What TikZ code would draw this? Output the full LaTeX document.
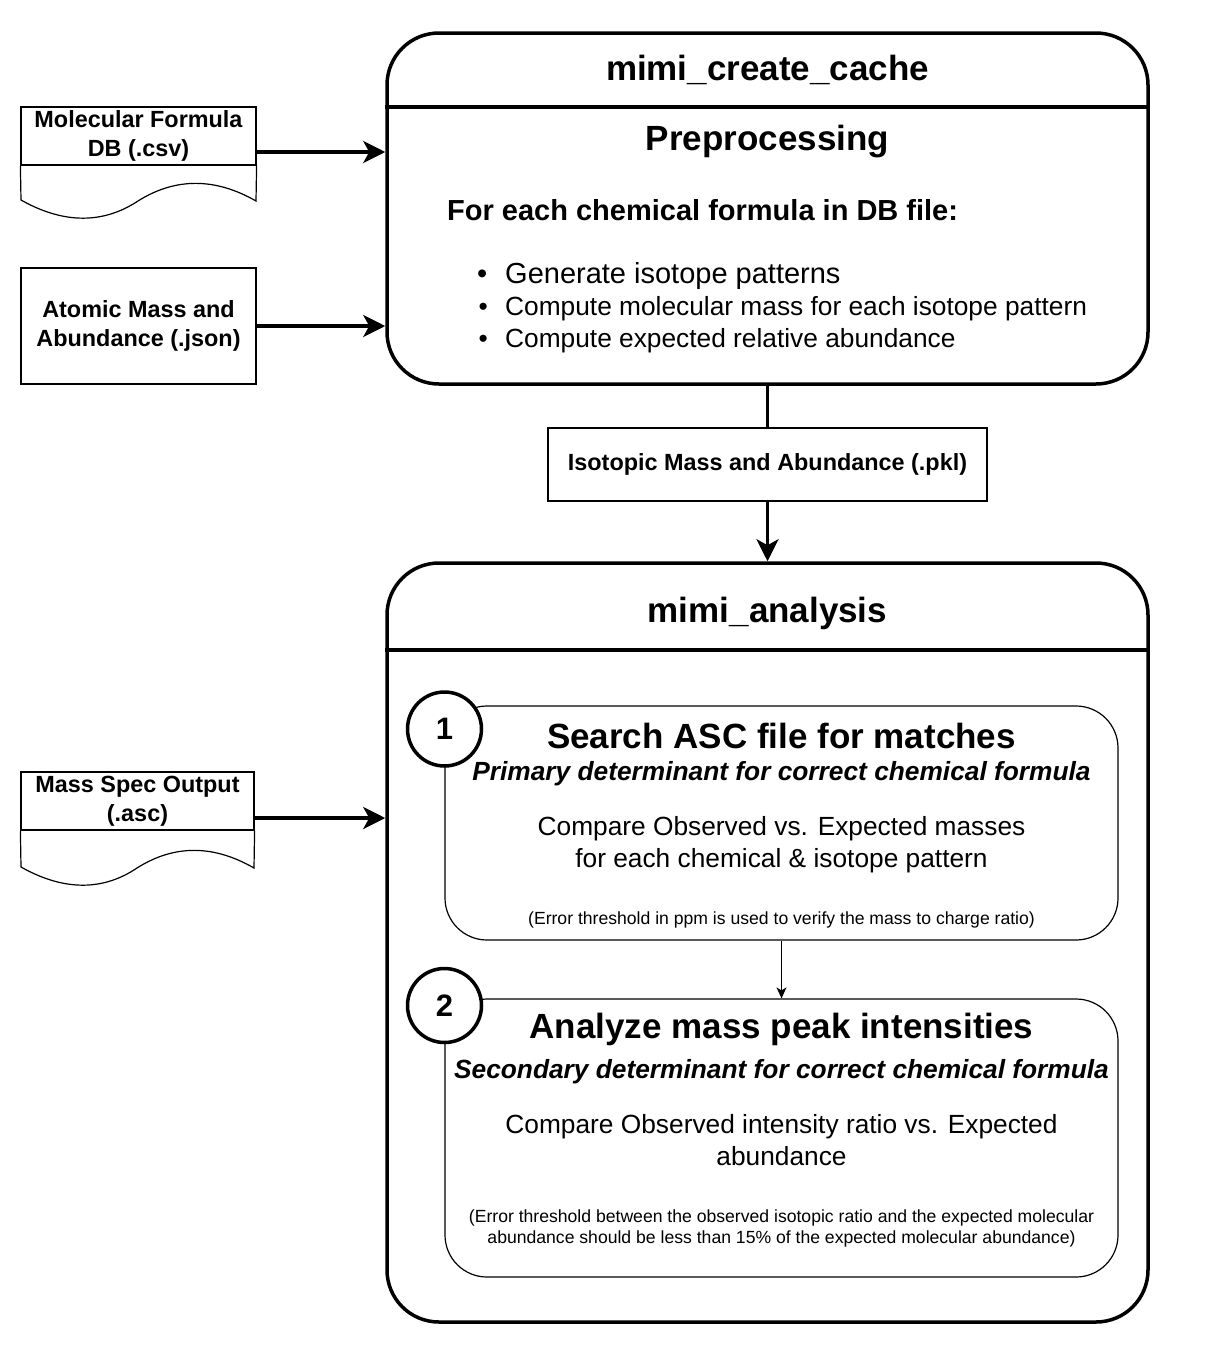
\documentclass[tikz,border=0pt]{standalone}
\usepackage{fontspec}
\setmainfont{Liberation Sans}
\usetikzlibrary{arrows.meta,positioning}

\tikzset{
  bigbox/.style={draw, line width=3.5pt, rounded corners=52pt, inner sep=0pt},
  filebox/.style={draw, line width=1.2pt, inner sep=0pt, align=center, font=\bfseries\fontsize{23.4}{29}\selectfont},
  stepbox/.style={draw, line width=1.2pt, rounded corners=42pt, inner sep=0pt, minimum width=673pt},
  numcirc/.style={draw, circle, line width=3.5pt, fill=white, minimum size=74pt, inner sep=0pt, font=\bfseries\fontsize{31}{31}\selectfont},
  flow/.style={line width=3.5pt, -{Stealth[length=22pt,width=22pt,inset=6pt]}},
  thinflow/.style={line width=1.2pt, -{Stealth[length=11pt,width=10pt,inset=3pt]}},
  titlefont/.style={font=\bfseries\fontsize{35}{42}\selectfont},
  subfont/.style={font=\bfseries\itshape\fontsize{26.3}{31.5}\selectfont},
  bodyfont/.style={font=\fontsize{26.3}{31.7}\selectfont, align=center},
  notefont/.style={font=\fontsize{17.6}{21}\selectfont, align=center},
}

\begin{document}
\begin{tikzpicture}[x=1pt,y=-1pt]
\useasboundingbox (0,0) rectangle (1206,1352);

% mimi_create_cache
\node[bigbox, minimum width=761pt, minimum height=351pt] (cache) at (767.5,208.5) {};
\coordinate (cachecut) at (0,107);
\draw[line width=3.5pt] (cache.west |- cachecut) -- (cache.east |- cachecut);
\node[titlefont, anchor=base] (cachetitle) at (767.5,80) {mimi\_create\_cache};
\node[titlefont, anchor=base] (prep) at (767.5,150) {Preprocessing};
\node[font=\bfseries\fontsize{29}{35}\selectfont, anchor=base west, inner sep=0pt] (foreach) at (447,220) {For each chemical formula in DB file:};
\node[font=\fontsize{29}{35}\selectfont, anchor=base west, inner sep=0pt] (bulla) at (477,283) {\makebox[28pt][l]{\textbullet}Generate isotope patterns};
\node[font=\fontsize{26.3}{32}\selectfont, anchor=base west, inner sep=0pt] (bullb) at (478.5,315) {\makebox[26.5pt][l]{\textbullet}Compute molecular mass for each isotope pattern};
\node[font=\fontsize{26.3}{32}\selectfont, anchor=base west, inner sep=0pt] (bullc) at (478.5,347) {\makebox[26.5pt][l]{\textbullet}Compute expected relative abundance};

% input files
\node[filebox, minimum width=235pt, minimum height=58pt] (csvdb) at (138.5,136) {Molecular Formula\\DB (.csv)};
\draw[line width=1.2pt] (csvdb.south west) -- (21,200) .. controls (60,222) and (100,226) .. (138,201)
  .. controls (176,177) and (216,178) .. (256,201) -- (csvdb.south east);
\coordinate (csvout) at (256,152);
\draw[flow] (csvout) -- (csvout -| cache.west);

\node[filebox, minimum width=235pt, minimum height=116pt] (atoms) at (138.5,326) {Atomic Mass and\\Abundance (.json)};
\draw[flow] (atoms.east) -- (atoms.east -| cache.west);

% cache output
\node[filebox, minimum width=439pt, minimum height=73pt] (pkl) at (767.5,464.5) {Isotopic Mass and Abundance (.pkl)};
\draw[line width=3.5pt] (cache.south) -- (pkl.north);

% mimi_analysis
\node[bigbox, minimum width=761pt, minimum height=759pt] (analysis) at (767.5,942.5) {};
\draw[flow] (pkl.south) -- (analysis.north);
\coordinate (analysiscut) at (0,650);
\draw[line width=3.5pt] (analysis.west |- analysiscut) -- (analysis.east |- analysiscut);
\node[titlefont, anchor=base] (analysistitle) at (767.5,622) {mimi\_analysis};

\node[filebox, minimum width=233pt, minimum height=58pt] (ascout) at (137.5,801) {Mass Spec Output\\(.asc)};
\draw[line width=1.2pt] (ascout.south west) -- (21,867) .. controls (60,889) and (100,893) .. (137,868)
  .. controls (175,844) and (214,845) .. (254,868) -- (ascout.south east);
\coordinate (ascarrow) at (254,818);
\draw[flow] (ascarrow) -- (ascarrow -| analysis.west);

% step 1
\node[stepbox, minimum height=234pt] (search) at (781.5,823) {};
\node[numcirc] (numa) at (444.5,729) {1};
\node[titlefont, anchor=base] (searchtitle) at (781.5,748) {Search ASC file for matches};
\node[subfont, anchor=base] (searchsub) at (781.5,780) {Primary determinant for correct chemical formula};
\node[bodyfont, anchor=base] (searchbody) at (781.5,867) {Compare Observed vs. Expected masses\\for each chemical \& isotope pattern};
\node[notefont, anchor=base] (searchnote) at (781.5,924) {(Error threshold in ppm is used to verify the mass to charge ratio)};

% step 2
\node[stepbox, minimum height=278pt] (peaks) at (781.5,1138) {};
\draw[thinflow] (search.south) -- (peaks.north);
\node[numcirc] (numb) at (444.5,1005.5) {2};
\node[titlefont, anchor=base] (peakstitle) at (781.5,1038) {Analyze mass peak intensities};
\node[subfont, anchor=base] (peakssub) at (781.5,1078) {Secondary determinant for correct chemical formula};
\node[bodyfont, anchor=base] (peaksbody) at (781.5,1165) {Compare Observed intensity ratio vs. Expected\\abundance};
\node[notefont, anchor=base] (peaksnote) at (781.5,1243) {(Error threshold between the observed isotopic ratio and the expected molecular\\abundance should be less than 15\% of the expected molecular abundance)};

\end{tikzpicture}
\end{document}
